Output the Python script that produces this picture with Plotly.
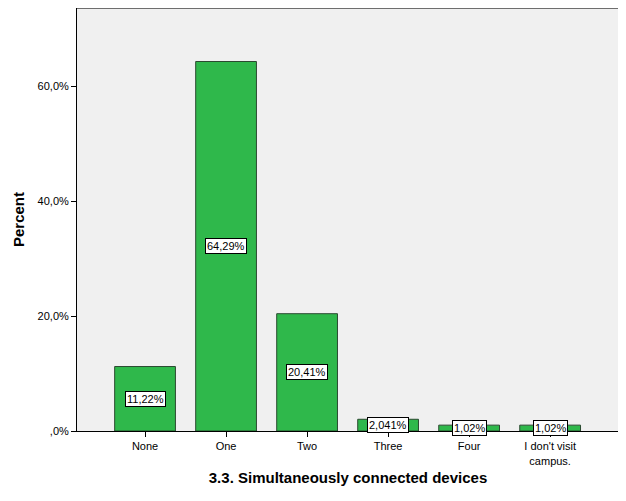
import plotly.graph_objects as go

categories = ["None", "One", "Two", "Three", "Four", "I don't visit<br>campus."]
percents = [11.22, 64.29, 20.41, 2.041, 1.02, 1.02]
labels = ["11,22%", "64,29%", "20,41%", "2,041%", "1,02%", "1,02%"]
tick_vals = [0, 20, 40, 60]
tick_text = [",0%", "20,0%", "40,0%", "60,0%"]

fig = go.Figure()
fig.add_trace(go.Bar(
    x=categories,
    y=percents,
    width=0.75,
    marker=dict(color="#2fb84b", line=dict(color="#2b4a30", width=1)),
    hoverinfo="x+y",
))

# boxed value labels in the middle of each bar
for cat, val, lab in zip(categories, percents, labels):
    fig.add_annotation(
        x=cat, y=val / 2, text=lab, showarrow=False,
        font=dict(family="Liberation Sans, Arial", size=11, color="black"),
        bgcolor="white", bordercolor="black", borderwidth=1, borderpad=1,
    )

# page body has an 8px margin, so the figure is a bit smaller than the window
fig.update_layout(
    width=618, height=493,
    margin=dict(l=69, r=7, t=0, b=70, autoexpand=False),
    paper_bgcolor="white",
    plot_bgcolor="#f0f0f0",
    showlegend=False,
    font=dict(family="Liberation Sans, Arial", size=11, color="black"),
)
fig.update_xaxes(
    range=[-0.84, 5.85],
    showline=True, linecolor="black", linewidth=1,
    ticks="outside", ticklen=5, tickcolor="black",
    showgrid=False,
    title=dict(text="<b>3.3. Simultaneously connected devices</b>",
               font=dict(size=15), standoff=6),
)
fig.update_yaxes(
    range=[0, 73.6],
    tickvals=tick_vals, ticktext=tick_text,
    showline=True, linecolor="black", linewidth=1,
    ticks="outside", ticklen=5, tickcolor="black",
    showgrid=False, zeroline=False,
    title=dict(text="<b>Percent</b>", font=dict(size=15), standoff=9),
)
# top/right frame in gray
fig.add_shape(type="line", xref="paper", yref="paper", x0=0, x1=1, y0=1, y1=1,
              line=dict(color="#6e6e6e", width=2))
fig.add_shape(type="line", xref="paper", yref="paper", x0=1, x1=1, y0=0, y1=1,
              line=dict(color="#6e6e6e", width=2))

fig.write_html("out.html")
